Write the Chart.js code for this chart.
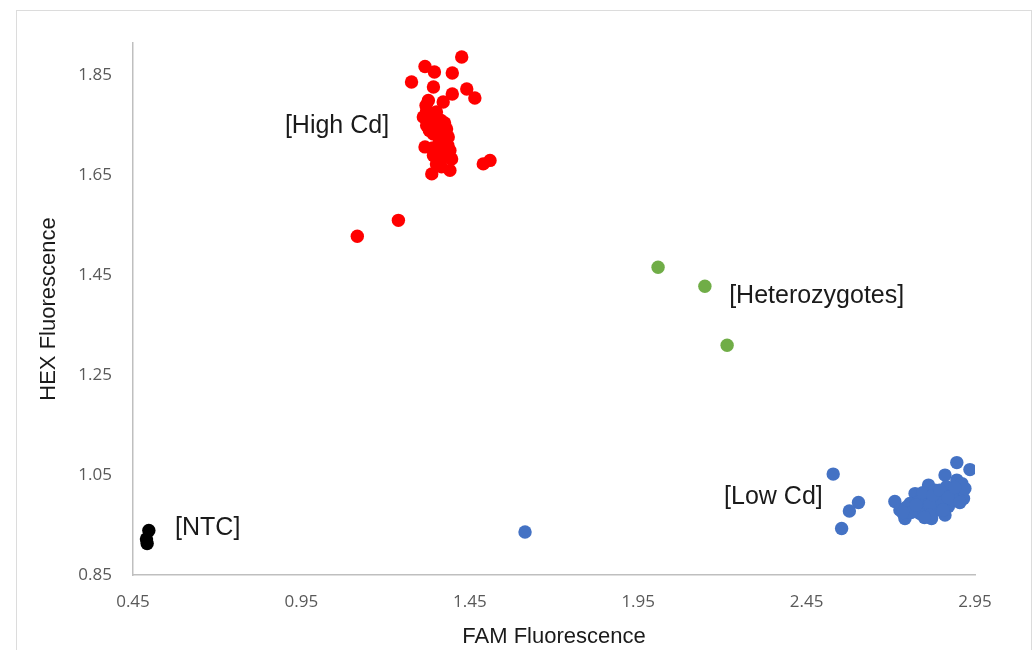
<!DOCTYPE html>
<html>
<head>
<meta charset="utf-8">
<script src="https://cdn.jsdelivr.net/npm/chart.js@4.4.1/dist/chart.umd.min.js"></script>
<style>
  html, body { margin: 0; padding: 0; background: #fff; }
  #frame { position: absolute; left: 16px; top: 10px; width: 1014px; height: 660px; border: 1px solid #dcdcdc; }
  #wrap { position: absolute; left: 0; top: 0; width: 1035px; height: 650px; }
</style>
</head>
<body>
<div id="frame"></div>
<div id="wrap"><canvas id="chart" width="1035" height="650"></canvas></div>
<script>
// FAM (x) / HEX (y) fluorescence per cluster
const highCdX = [1.426, 1.317, 1.345, 1.398, 1.277, 1.342, 1.398, 1.441, 1.465, 1.327, 1.371, 1.322,
  1.312, 1.351, 1.322, 1.361, 1.381, 1.342, 1.386, 1.317, 1.357, 1.391, 1.342, 1.371, 1.396, 1.351,
  1.490, 1.510, 1.337, 1.391, 1.366, 1.238, 1.116, 1.335, 1.360, 1.330, 1.375, 1.350, 1.320, 1.365,
  1.385, 1.375, 1.355, 1.340, 1.380, 1.360];
const highCdY = [1.887, 1.868, 1.857, 1.855, 1.837, 1.827, 1.813, 1.823, 1.805, 1.800, 1.797, 1.780,
  1.767, 1.777, 1.750, 1.750, 1.743, 1.733, 1.727, 1.707, 1.707, 1.700, 1.690, 1.687, 1.683, 1.673,
  1.673, 1.680, 1.653, 1.660, 1.667, 1.560, 1.528, 1.760, 1.720, 1.740, 1.715, 1.695, 1.790, 1.760,
  1.710, 1.755, 1.730, 1.705, 1.690, 1.745];

const hetX = [2.009, 2.148, 2.214];
const hetY = [1.466, 1.428, 1.310];

const lowCdX = [1.614, 2.529, 2.604, 2.577, 2.554, 2.896, 2.935, 2.712, 2.727, 2.742, 2.772, 2.767,
  2.787, 2.812, 2.806, 2.821, 2.836, 2.846, 2.861, 2.866, 2.871, 2.861, 2.896, 2.901, 2.916, 2.911,
  2.886, 2.920, 2.757, 2.792, 2.831, 2.836, 2.745, 2.800, 2.850, 2.880, 2.780, 2.815, 2.760, 2.775,
  2.795, 2.825, 2.845, 2.870, 2.890, 2.905, 2.815, 2.855, 2.735, 2.800];
const lowCdY = [0.936, 1.052, 0.995, 0.978, 0.943, 1.075, 1.061, 0.997, 0.980, 0.963, 1.013, 0.983,
  0.973, 1.030, 0.993, 0.963, 0.980, 1.007, 1.050, 1.027, 0.987, 0.970, 1.040, 1.013, 1.003, 1.033,
  1.000, 1.023, 0.993, 1.007, 1.020, 1.000, 0.985, 0.975, 0.995, 1.010, 0.995, 0.990, 0.975, 0.990,
  1.015, 1.010, 1.020, 1.005, 1.025, 0.995, 0.970, 0.980, 0.975, 0.965];

const ntcX = [0.497, 0.492, 0.490];
const ntcY = [0.939, 0.913, 0.922];

const xTicks = [0.45, 0.95, 1.45, 1.95, 2.45, 2.95];
const yTicks = [0.85, 1.05, 1.25, 1.45, 1.65, 1.85];

// cluster call-outs: text and anchor (left edge, middle) in data units
const labelTexts = ['[High Cd]', '[Heterozygotes]', '[Low Cd]', '[NTC]'];
const labelX = [0.901, 2.220, 2.205, 0.575];
const labelY = [1.748, 1.408, 1.006, 0.944];

const toPoints = (xs, ys) => xs.map((x, i) => ({ x, y: ys[i] }));

const clusterLabels = {
  id: 'clusterLabels',
  afterDatasetsDraw(chart) {
    const { ctx, scales: { x, y } } = chart;
    ctx.save();
    ctx.font = '25px "Liberation Sans", Arial, sans-serif';
    ctx.fillStyle = '#1a1a1a';
    ctx.textAlign = 'left';
    ctx.textBaseline = 'middle';
    labelTexts.forEach((t, i) => {
      ctx.fillText(t, x.getPixelForValue(labelX[i]), y.getPixelForValue(labelY[i]));
    });
    ctx.restore();
  }
};

const dot = color => ({
  backgroundColor: color,
  borderWidth: 0,
  pointRadius: 6.7,
  pointHoverRadius: 6.7
});

const tickFont = { family: '"Open Sans", sans-serif', size: 17 };
const titleFont = { family: '"Liberation Sans", Arial, sans-serif', size: 22 };

new Chart(document.getElementById('chart'), {
  type: 'scatter',
  data: {
    datasets: [
      { label: 'High Cd', data: toPoints(highCdX, highCdY), ...dot('#ff0000') },
      { label: 'Heterozygotes', data: toPoints(hetX, hetY), ...dot('#70ad47') },
      { label: 'Low Cd', data: toPoints(lowCdX, lowCdY), ...dot('#4472c4') },
      { label: 'NTC', data: toPoints(ntcX, ntcY), ...dot('#000000') }
    ]
  },
  plugins: [clusterLabels],
  options: {
    responsive: false,
    animation: false,
    layout: { padding: { top: 43, right: 60, left: 0, bottom: 0 } },
    plugins: { legend: { display: false }, tooltip: { enabled: false } },
    scales: {
      x: {
        type: 'linear',
        min: 0.45,
        max: 2.95,
        afterBuildTicks: s => { s.ticks = xTicks.map(v => ({ value: v })); },
        afterFit: s => { s.height = 75; },
        ticks: { font: tickFont, color: '#595959', padding: 17, callback: v => v.toFixed(2) },
        grid: { display: false, drawTicks: false },
        border: { color: '#bfbfbf', width: 1.5 },
        title: { display: true, text: 'FAM Fluorescence', font: titleFont, color: '#1a1a1a', padding: { top: 0, bottom: 0 } }
      },
      y: {
        type: 'linear',
        min: 0.85,
        max: 1.915,
        afterBuildTicks: s => { s.ticks = yTicks.map(v => ({ value: v })); },
        afterFit: s => { s.width = 133; },
        ticks: { font: tickFont, color: '#595959', padding: 21, callback: v => v.toFixed(2) },
        grid: { display: false, drawTicks: false },
        border: { color: '#bfbfbf', width: 1.5 },
        title: { display: true, text: 'HEX Fluorescence', font: titleFont, color: '#1a1a1a', padding: { top: 36, bottom: 0 } }
      }
    }
  }
});
</script>
</body>
</html>
